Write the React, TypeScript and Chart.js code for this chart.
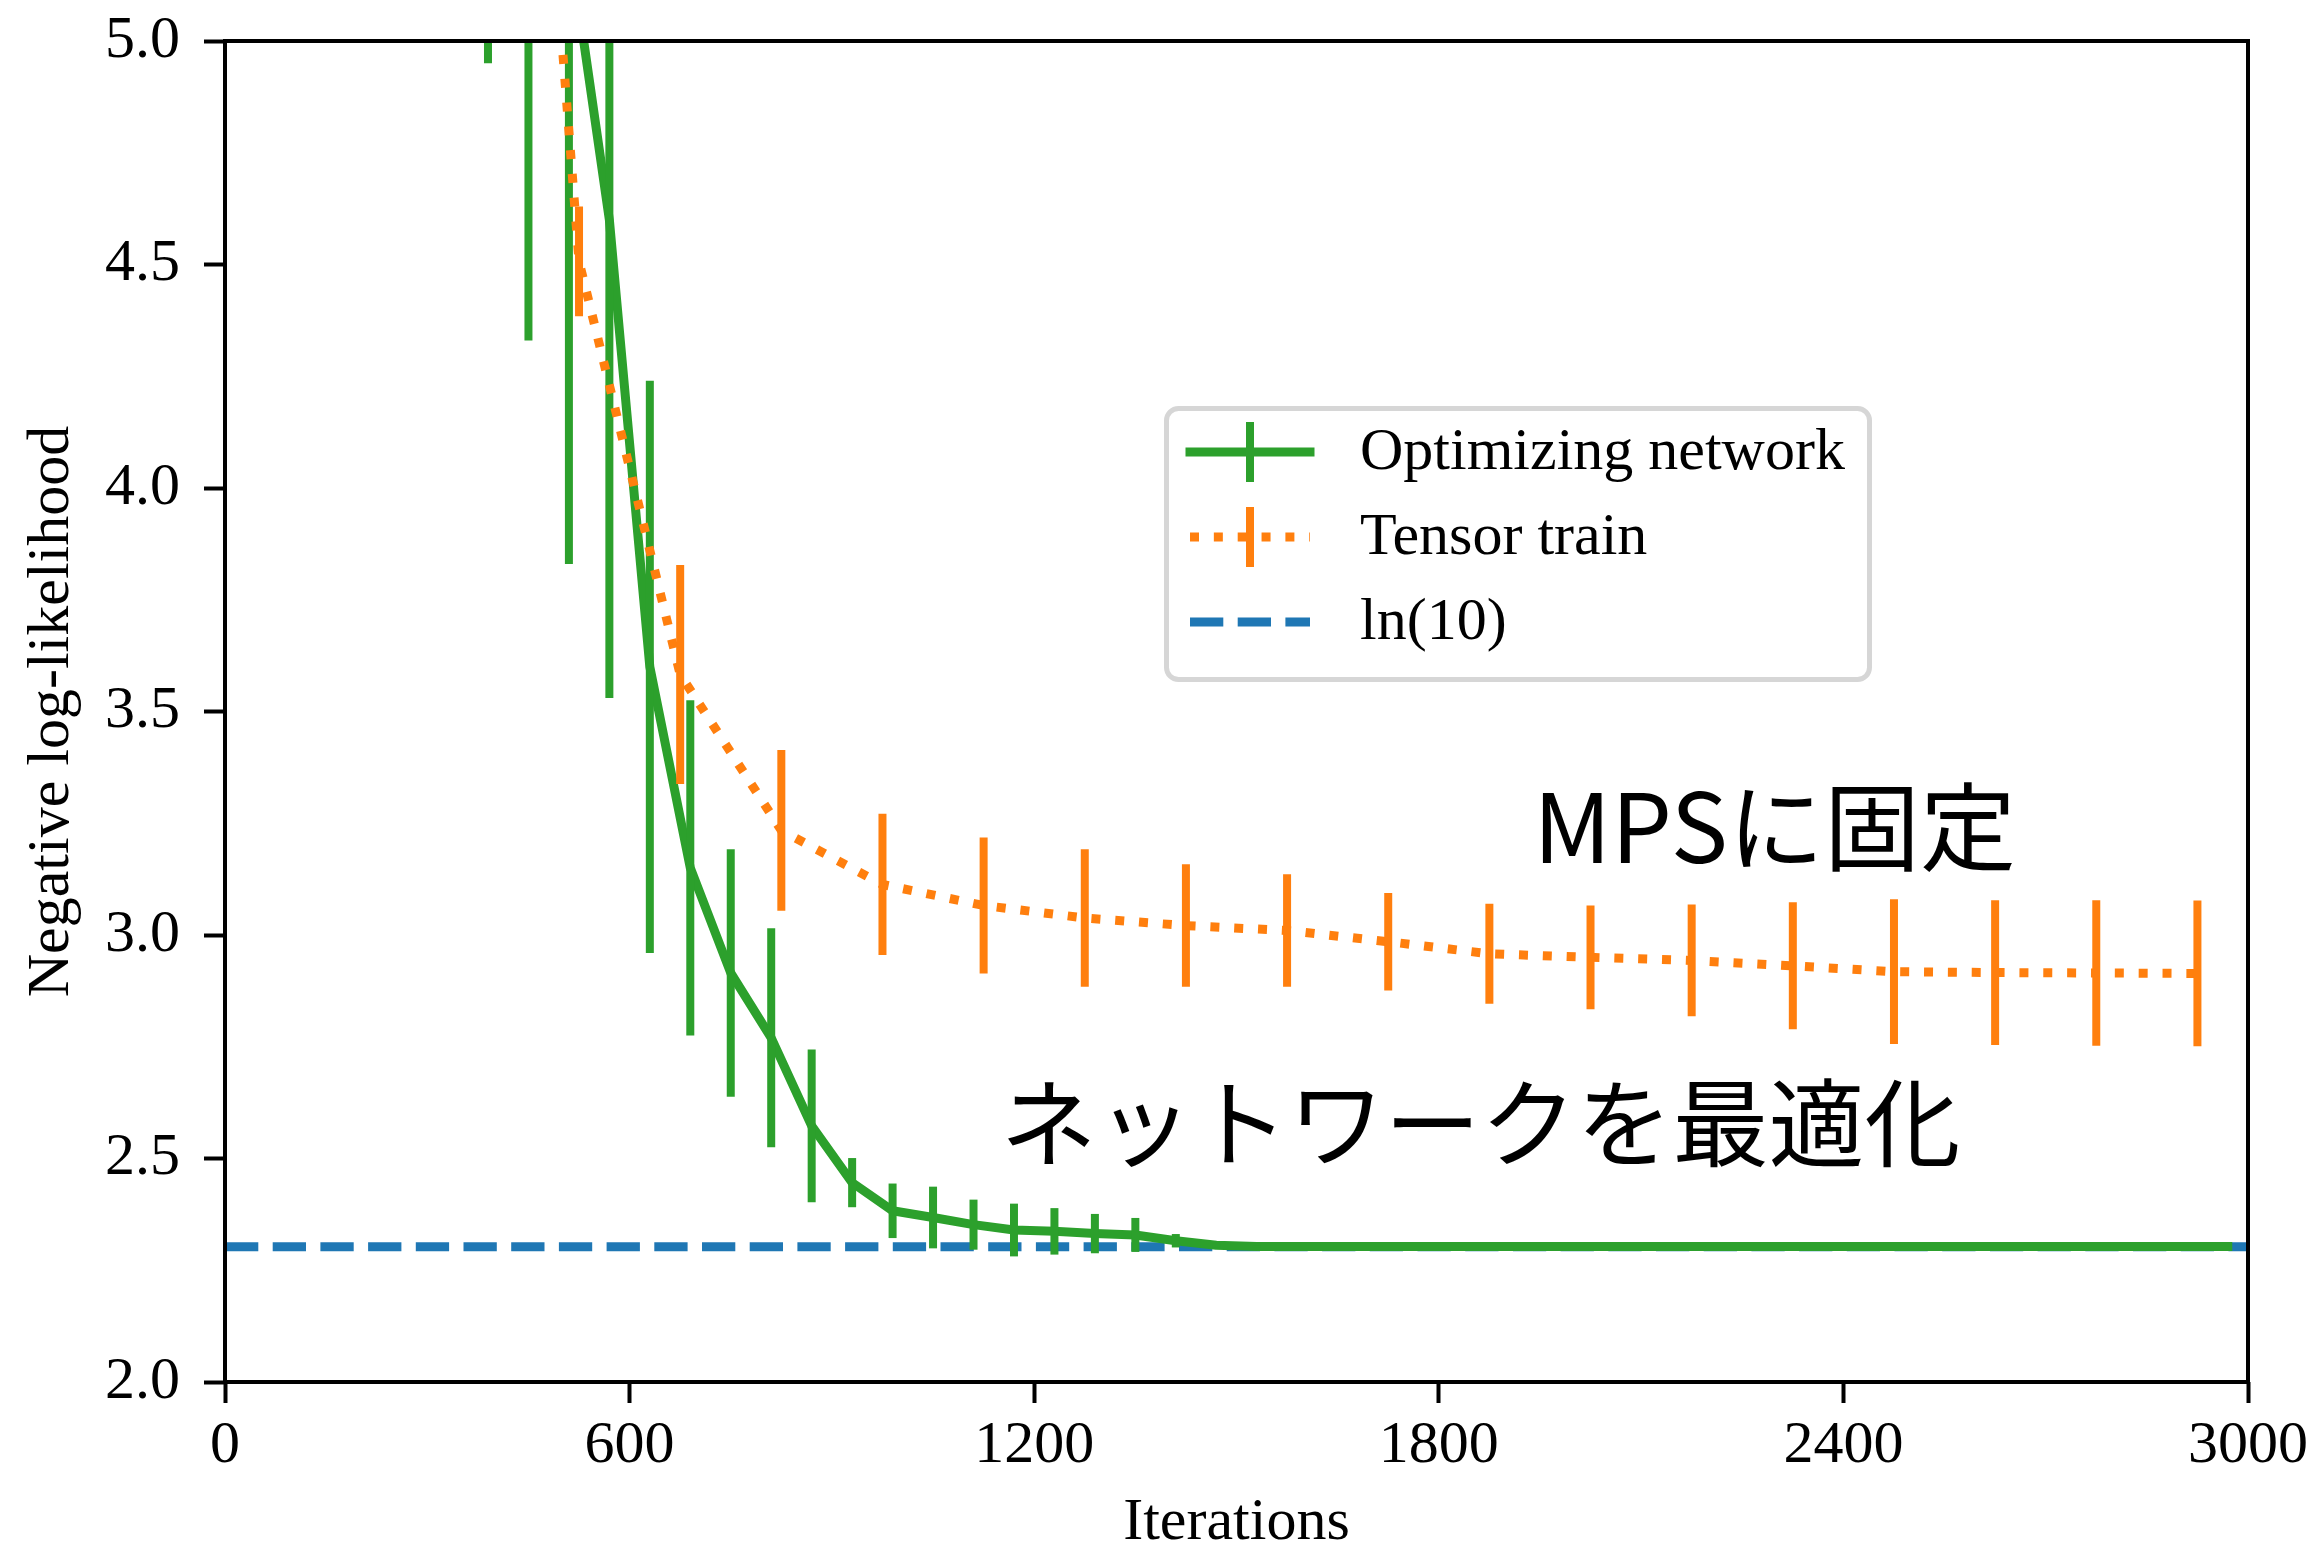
import React, { useEffect, useRef } from "react";
import { Chart, registerables } from "chart.js";

Chart.register(...registerables);

// ---------- data ----------
const greenIters = [
  30, 90, 150, 210, 270, 330, 390, 450, 510, 570, 630, 690, 750, 810, 870, 930, 990, 1050, 1110, 1170,
  1230, 1290, 1350, 1410, 1470, 1530, 1590, 1650, 1710, 1770, 1830, 1890, 1950, 2010, 2070, 2130, 2190,
  2250, 2310, 2370, 2430, 2490, 2550, 2610, 2670, 2730, 2790, 2850, 2910, 2970,
];
const greenValues = [
  12.0, 11.2, 10.4, 9.5, 8.6, 7.6, 6.6, 5.9, 5.23, 4.6, 3.6, 3.15, 2.915, 2.77, 2.573, 2.446, 2.383, 2.368,
  2.352, 2.34, 2.337, 2.332, 2.329, 2.316, 2.306, 2.303, 2.303, 2.303, 2.303, 2.303, 2.303, 2.303, 2.303,
  2.303, 2.303, 2.303, 2.303, 2.303, 2.303, 2.303, 2.303, 2.303, 2.303, 2.303, 2.303, 2.303, 2.303, 2.303,
  2.303, 2.303,
];
const greenErrors = [
  2.5, 2.4, 2.3, 2.2, 2.0, 1.9, 1.65, 1.57, 1.4, 1.07, 0.64, 0.375, 0.277, 0.245, 0.171, 0.055, 0.061, 0.069,
  0.056, 0.059, 0.052, 0.044, 0.038, 0.015, 0.005, 0.002, 0.001, 0.001, 0.001, 0.001, 0.001, 0.001, 0.001,
  0.001, 0.001, 0.001, 0.001, 0.001, 0.001, 0.001, 0.001, 0.001, 0.001, 0.001, 0.001, 0.001, 0.001, 0.001,
  0.001, 0.001,
];

const orangeIters = [
  75, 225, 375, 525, 675, 825, 975, 1125, 1275, 1425, 1575, 1725, 1875, 2025, 2175, 2325, 2475, 2625, 2775, 2925,
];
const orangeValues = [
  10.8, 9.3, 7.42, 4.507, 3.583, 3.234, 3.113, 3.066, 3.038, 3.021, 3.01, 2.985, 2.958, 2.95, 2.943, 2.931,
  2.918, 2.916, 2.915, 2.914,
];
const orangeErrors = [
  1.8, 1.6, 1.5, 0.123, 0.245, 0.18, 0.158, 0.152, 0.154, 0.137, 0.126, 0.109, 0.112, 0.116, 0.125, 0.142,
  0.162, 0.162, 0.163, 0.163,
];

const baselineIters = [0, 3000];
const baselineValues = [2.302585, 2.302585]; // ln(10)

const xTicks = [0, 600, 1200, 1800, 2400, 3000];
const yTicks = [2.0, 2.5, 3.0, 3.5, 4.0, 4.5, 5.0];

const seriesLabels = ["Optimizing network", "Tensor train", "ln(10)"];
const xTitle = "Iterations";
const yTitle = "Negative log-likelihood";

const annotationTexts = ["MPSに固定", "ネットワークを最適化"];
const annotationX = [1940, 1150];
const annotationY = [3.16, 2.5];

// ---------- styles ----------
const GREEN = "#2ca02c";
const ORANGE = "#ff7f0e";
const BLUE = "#1f77b4";
const SERIF = "'Liberation Serif', 'Times New Roman', serif";
const CJK = "'Noto Sans CJK JP', 'Noto Sans', sans-serif";
const LW = 9;
const ELW = 8;
const DOT = [9, 14.85];
const DASH = [33.3, 14.4];

const errorBarPlugin = {
  id: "errorBars",
  afterDatasetDraw(chart: any, args: any) {
    const ds = chart.data.datasets[args.index];
    if (!ds.errors) return;
    const { ctx, chartArea, scales } = chart;
    const xs = scales.x;
    const ys = scales.y;
    ctx.save();
    ctx.beginPath();
    ctx.rect(chartArea.left, chartArea.top, chartArea.right - chartArea.left, chartArea.bottom - chartArea.top);
    ctx.clip();
    ctx.strokeStyle = ds.borderColor;
    ctx.lineWidth = ELW;
    ctx.setLineDash([]);
    ctx.lineCap = "butt";
    ds.data.forEach((p: any, i: number) => {
      const e = ds.errors[i];
      const px = xs.getPixelForValue(p.x);
      ctx.beginPath();
      ctx.moveTo(px, ys.getPixelForValue(p.y - e));
      ctx.lineTo(px, ys.getPixelForValue(p.y + e));
      ctx.stroke();
    });
    ctx.restore();
  },
};

const annotationPlugin = {
  id: "annotations",
  afterDatasetsDraw(chart: any) {
    const { ctx, scales } = chart;
    ctx.save();
    ctx.fillStyle = "#000";
    ctx.font = `96px ${CJK}`;
    ctx.textAlign = "left";
    ctx.textBaseline = "alphabetic";
    annotationTexts.forEach((t, i) => {
      ctx.fillText(t, scales.x.getPixelForValue(annotationX[i]), scales.y.getPixelForValue(annotationY[i]));
    });
    ctx.restore();
  },
};

const framePlugin = {
  id: "frameAndLegend",
  afterDraw(chart: any) {
    const { ctx, chartArea } = chart;
    ctx.save();
    // spines
    ctx.strokeStyle = "#000";
    ctx.lineWidth = 4;
    ctx.setLineDash([]);
    ctx.strokeRect(chartArea.left, chartArea.top, chartArea.right - chartArea.left, chartArea.bottom - chartArea.top);

    // legend
    const bx = 1166.5, by = 408.5, bw = 703, bh = 271;
    ctx.beginPath();
    (ctx as any).roundRect(bx, by, bw, bh, 12);
    ctx.fillStyle = "rgba(255,255,255,0.8)";
    ctx.fill();
    ctx.strokeStyle = "rgba(204,204,204,0.8)";
    ctx.lineWidth = 5;
    ctx.stroke();

    const rows = [452, 537, 622];
    const colors = [GREEN, ORANGE, BLUE];
    const x0 = 1190, x1 = 1310, xc = 1250;
    rows.forEach((y, i) => {
      ctx.strokeStyle = colors[i];
      ctx.lineWidth = LW;
      ctx.beginPath();
      if (i === 0) {
        ctx.setLineDash([]);
        ctx.lineCap = "square";
      } else {
        ctx.setLineDash(i === 1 ? DOT : DASH);
        ctx.lineCap = "butt";
      }
      ctx.moveTo(x0, y);
      ctx.lineTo(x1, y);
      ctx.stroke();
      if (i < 2) {
        ctx.setLineDash([]);
        ctx.lineCap = "butt";
        ctx.lineWidth = ELW;
        ctx.beginPath();
        ctx.moveTo(xc, y - 30);
        ctx.lineTo(xc, y + 30);
        ctx.stroke();
      }
      ctx.fillStyle = "#000";
      ctx.font = `60px ${SERIF}`;
      ctx.textAlign = "left";
      ctx.textBaseline = "middle";
      ctx.fillText(seriesLabels[i], 1360, y + 1);
    });
    ctx.restore();
  },
};

export default function App() {
  const canvasRef = useRef<HTMLCanvasElement | null>(null);

  useEffect(() => {
    const canvas = canvasRef.current;
    if (!canvas) return;
    const chart = new Chart(canvas, {
      type: "line",
      data: {
        datasets: [
          {
            label: seriesLabels[1],
            data: orangeIters.map((x, i) => ({ x, y: orangeValues[i] })),
            errors: orangeErrors,
            borderColor: ORANGE,
            backgroundColor: ORANGE,
            borderWidth: LW,
            borderDash: DOT,
            borderCapStyle: "butt",
            pointRadius: 0,
            tension: 0,
            clip: 0,
            order: 0,
          } as any,
          {
            label: seriesLabels[0],
            data: greenIters.map((x, i) => ({ x, y: greenValues[i] })),
            errors: greenErrors,
            borderColor: GREEN,
            backgroundColor: GREEN,
            borderWidth: LW,
            borderCapStyle: "square",
            borderJoinStyle: "round",
            pointRadius: 0,
            tension: 0,
            clip: 0,
            order: 1,
          } as any,
          {
            label: seriesLabels[2],
            data: baselineIters.map((x, i) => ({ x, y: baselineValues[i] })),
            borderColor: BLUE,
            backgroundColor: BLUE,
            borderWidth: LW,
            borderDash: DASH,
            borderCapStyle: "butt",
            pointRadius: 0,
            tension: 0,
            clip: 0,
            order: 2,
          } as any,
        ],
      },
      options: {
        animation: false,
        responsive: false,
        devicePixelRatio: 1,
        events: [],
        layout: { padding: { top: 41, right: 67, left: 0, bottom: 0 } },
        plugins: { legend: { display: false }, tooltip: { enabled: false } },
        scales: {
          x: {
            type: "linear",
            min: 0,
            max: 3000,
            afterBuildTicks: (s: any) => {
              s.ticks = xTicks.map((v) => ({ value: v }));
            },
            afterFit: (s: any) => {
              s.height = 168;
            },
            grid: {
              display: true,
              drawOnChartArea: false,
              drawTicks: true,
              tickLength: 21,
              tickWidth: 4,
              tickColor: "#000",
            },
            border: { display: false },
            ticks: {
              font: { family: SERIF, size: 60, lineHeight: 1.2 },
              color: "#000",
              padding: 7,
              maxRotation: 0,
              autoSkip: false,
              callback: (v: any) => String(v),
            },
            title: {
              display: true,
              text: xTitle,
              color: "#000",
              font: { family: SERIF, size: 60, lineHeight: 0.9 },
              padding: { top: 0, bottom: 0 },
            },
          },
          y: {
            type: "linear",
            min: 2,
            max: 5,
            afterBuildTicks: (s: any) => {
              s.ticks = yTicks.map((v) => ({ value: v }));
            },
            afterFit: (s: any) => {
              s.width = 225;
            },
            grid: {
              display: true,
              drawOnChartArea: false,
              drawTicks: true,
              tickLength: 21,
              tickWidth: 4,
              tickColor: "#000",
            },
            border: { display: false },
            ticks: {
              font: { family: SERIF, size: 60, lineHeight: 0.5 },
              color: "#000",
              padding: 24,
              autoSkip: false,
              callback: (v: any) => Number(v).toFixed(1),
            },
            title: {
              display: true,
              text: yTitle,
              color: "#000",
              font: { family: SERIF, size: 60, lineHeight: 0.9 },
              padding: { top: 25, bottom: 0 },
            },
          },
        },
      } as any,
      plugins: [errorBarPlugin, annotationPlugin, framePlugin] as any,
    });
    return () => chart.destroy();
  }, []);

  return (
    <div style={{ position: "absolute", left: 0, top: 0, width: 2315, height: 1550, background: "#fff" }}>
      <canvas ref={canvasRef} width={2315} height={1550} style={{ display: "block" }} />
    </div>
  );
}
